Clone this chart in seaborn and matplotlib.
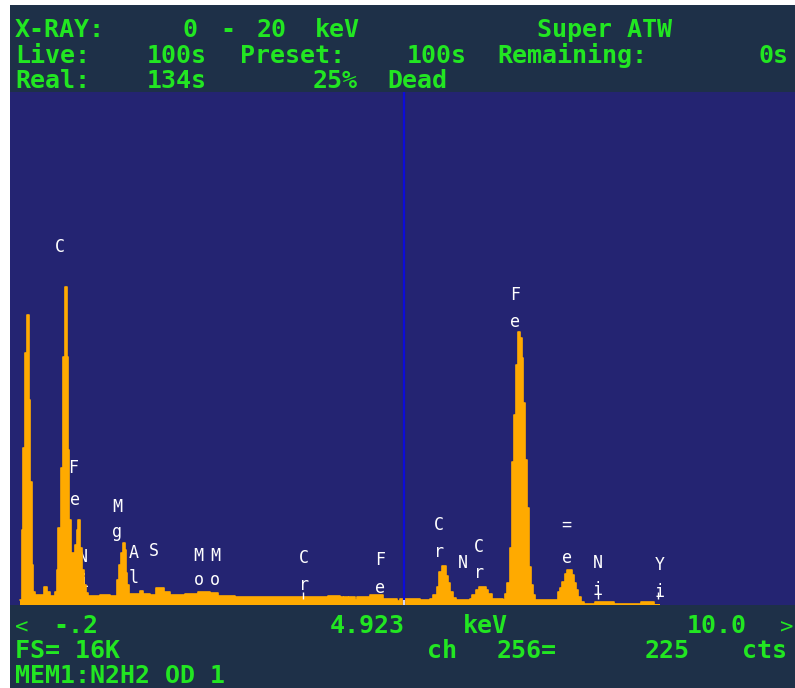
import matplotlib.pyplot as plt
import seaborn as sns
import pandas as pd
from matplotlib.patches import Rectangle

# spectrum (keV, counts), drawn as steps
energy_kev = [-0.070, -0.048, -0.027, -0.005, 0.017, 0.040, 0.053, 0.060, 0.082, 0.103,
              0.125, 0.242, 0.281, 0.320, 0.385, 0.407, 0.424, 0.463, 0.493, 0.515,
              0.547, 0.560, 0.573, 0.593, 0.619, 0.645, 0.671, 0.687, 0.716, 0.736,
              0.762, 0.788, 0.814, 0.969, 1.099, 1.190, 1.216, 1.242, 1.262, 1.288,
              1.303, 1.320, 1.346, 1.463, 1.489, 1.528, 1.619, 1.697, 1.801, 1.879,
              2.074, 2.243, 2.399, 2.503, 2.724, 3.919, 3.932, 4.088, 4.127, 4.140,
              4.192, 4.205, 4.283, 4.309, 4.478, 4.647, 4.829, 4.868, 5.127, 5.257,
              5.296, 5.342, 5.374, 5.407, 5.459, 5.485, 5.517, 5.556, 5.595, 5.777,
              5.803, 5.855, 5.894, 5.979, 6.011, 6.063, 6.206, 6.232, 6.264, 6.297,
              6.323, 6.349, 6.375, 6.407, 6.433, 6.453, 6.472, 6.492, 6.518, 6.544,
              6.570, 6.596, 6.622, 6.895, 6.921, 6.947, 6.973, 7.012, 7.038, 7.102,
              7.128, 7.154, 7.180, 7.219, 7.258, 7.401, 7.648, 8.000, 8.168, 8.246,
              10.0]
counts = [156, 2340, 4900, 7860, 9045, 9045, 6390, 3840, 1250, 405,
          312, 560, 405, 280, 405, 1090, 2400, 4270, 7735, 9920,
          7735, 4830, 2650, 1620, 1620, 1870, 2340, 2650, 1780, 1090,
          625, 375, 280, 312, 280, 780, 1250, 1620, 1935, 1715,
          1000, 625, 345, 345, 435, 345, 312, 530, 405, 312,
          345, 405, 375, 280, 250, 156, 280, 250, 156, 250,
          156, 250, 156, 250, 312, 187, 125, 187, 156, 187,
          312, 560, 1030, 1215, 905, 685, 405, 218, 156, 187,
          312, 470, 560, 470, 345, 187, 156, 345, 685, 1780,
          4460, 5925, 7485, 8515, 8330, 7705, 6300, 4525, 3025, 1185,
          625, 312, 156, 156, 405, 530, 715, 965, 1090, 935,
          685, 470, 250, 94, 31, 94, 31, 94, 16, 0,
          0]

# element labels (one glyph each, two rows per element)
label_text = ["C", "F", "e", "N", "i", "M", "g", "A", "l", "S",
              "M", "o", "M", "o", "C", "r", "F", "e", "C", "r",
              "N", "C", "r", "F", "e", "=", "e", "N", "i", "Y", "i"]
label_kev = [0.450, 0.619, 0.645, 0.749, 0.749, 1.190, 1.190, 1.411, 1.411, 1.671,
             2.243, 2.256, 2.464, 2.464, 3.620, 3.620, 4.608, 4.608, 5.374, 5.374,
             5.686, 5.894, 5.894, 6.362, 6.362, 7.025, 7.038, 7.440, 7.440, 8.246, 8.233]
label_cts = [11166, 4273, 3275, 1497, 717, 3057, 2277, 1622, 842, 1684,
             1528, 780, 1528, 780, 1466, 624, 1404, 530, 2495, 1653,
             1310, 1809, 998, 9669, 8827, 2495, 1466, 1310, 468, 1248, 405]

marker_kev = [3.607, 7.440, 8.220]
cursor_kev = 4.923
x_range = (-0.2, 10.0)
full_scale = 16000

header = [("X-RAY:", 15, 37), ("0", 183, 37), ("-", 220, 37), ("20", 257, 37),
          ("keV", 315, 37), ("Super ATW", 537, 37),
          ("Live:", 15, 63), ("100s", 147, 63), ("Preset:", 240, 63),
          ("100s", 407, 63), ("Remaining:", 497, 63), ("0s", 758, 63),
          ("Real:", 15, 88), ("134s", 147, 88), ("25%", 313, 88), ("Dead", 387, 88),
          ("-.2", 53, 633), ("4.923", 330, 633), ("keV", 463, 633), ("10.0", 687, 633),
          ("FS= 16K", 15, 658), ("ch", 427, 658), ("256=", 497, 658),
          ("225", 645, 658), ("cts", 742, 658),
          ("MEM1:N2H2 OD 1", 15, 683)]
arrows = [("<", 15, 633), (">", 780, 633)]

PANEL = "#1e3048"
BLUE = "#242472"
ORANGE = "#ffaa00"
GREEN = "#22e622"

sns.set_theme(style="white")
plt.rcParams["font.family"] = ["DejaVu Sans Mono", "DejaVu Sans"]

W, H = 795, 688
fig = plt.figure(figsize=(W / 100, H / 100), dpi=100, facecolor="white")

bg = fig.add_axes([0, 0, 1, 1])
bg.set_xlim(0, W)
bg.set_ylim(H, 0)
bg.axis("off")
bg.add_patch(Rectangle((10, 5), W - 10, H - 5, color=PANEL, lw=0))
for txt, x, y in header:
    bg.text(x, y, txt, color=GREEN, fontsize=18, fontweight="bold", ha="left", va="baseline")
for txt, x, y in arrows:
    bg.text(x, y, txt, color=GREEN, fontsize=16, ha="left", va="baseline")

ax = fig.add_axes([10 / W, (H - 605) / H, (W - 10) / W, (605 - 92) / H])
ax.set_facecolor(BLUE)
df = pd.DataFrame({"energy": energy_kev, "counts": counts})
ax.fill_between(df["energy"], df["counts"], step="post", color=ORANGE, lw=0, zorder=2)
# outline only where there are counts, so no line runs along the empty tail
sns.lineplot(data=df[df["counts"] > 0], x="energy", y="counts", drawstyle="steps-post",
             color=ORANGE, lw=1.2, ax=ax, zorder=2)

for ch, xk, yc in zip(label_text, label_kev, label_cts):
    ax.text(xk, yc, ch, color="white", fontsize=12, ha="center", va="center", zorder=1)

ax.vlines(marker_kev, 200, 420, color="white", lw=1, zorder=3)
ax.axvline(cursor_kev, color="#0c0cd8", lw=1.6, zorder=3)
ax.vlines(cursor_kev, 0, 160, color="white", lw=1.2, zorder=4)

ax.set_xlim(*x_range)
ax.set_ylim(0, full_scale)
ax.set_xticks([])
ax.set_yticks([])
ax.set_xlabel("")
ax.set_ylabel("")
for s in ax.spines.values():
    s.set_visible(False)

fig.savefig("out.png", dpi=100, facecolor="white")
